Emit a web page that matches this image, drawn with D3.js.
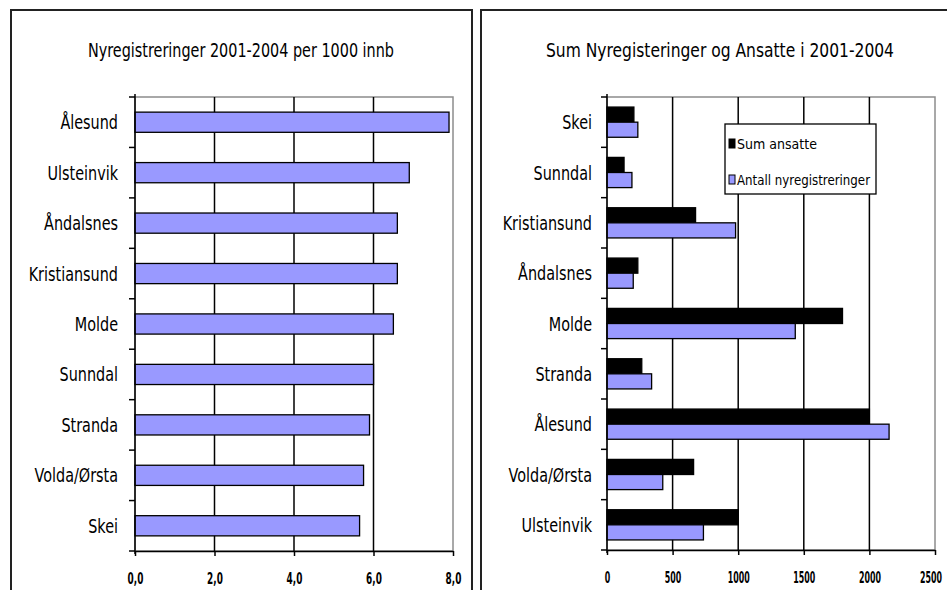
<!DOCTYPE html>
<html>
<head>
<meta charset="utf-8">
<script src="https://cdn.jsdelivr.net/npm/d3@7"></script>
<style>
  html, body { margin: 0; padding: 0; background: #fff; }
  svg { display: block; }
  text { font-family: "Liberation Sans Narrow", "Arial Narrow", "DejaVu Sans Condensed", sans-serif; fill: #000; }
</style>
</head>
<body>
<svg id="chart" width="947" height="590"></svg>
<script>
// ---- Data ----
const leftTitle = "Nyregistreringer 2001-2004 per 1000 innb";
const leftCategories = ["Ålesund", "Ulsteinvik", "Åndalsnes", "Kristiansund", "Molde", "Sunndal", "Stranda", "Volda/Ørsta", "Skei"];
const leftValues = [7.9, 6.9, 6.6, 6.6, 6.5, 6.0, 5.9, 5.75, 5.65];
const leftTicks = [0, 2, 4, 6, 8];
const leftTickLabels = ["0,0", "2,0", "4,0", "6,0", "8,0"];

const rightTitle = "Sum Nyregisteringer og Ansatte i 2001-2004";
const rightCategories = ["Skei", "Sunndal", "Kristiansund", "Åndalsnes", "Molde", "Stranda", "Ålesund", "Volda/Ørsta", "Ulsteinvik"];
const seriesNames = ["Sum ansatte", "Antall nyregistreringer"];
const sumAnsatte = [205, 130, 675, 235, 1795, 265, 2000, 660, 1000];
const antallNyreg = [235, 190, 980, 200, 1435, 340, 2150, 425, 735];
const rightTicks = [0, 500, 1000, 1500, 2000, 2500];
const rightTickLabels = ["0", "500", "1000", "1500", "2000", "2500"];

const PURPLE = "#9999ff";
const seriesColors = ["#000000", PURPLE];

const svg = d3.select("#chart");

// Panel frames
svg.append("rect").attr("x", 11).attr("y", 10).attr("width", 461).attr("height", 600)
  .attr("fill", "#fff").attr("stroke", "#222").attr("stroke-width", 2);
svg.append("rect").attr("x", 481).attr("y", 10).attr("width", 480).attr("height", 600)
  .attr("fill", "#fff").attr("stroke", "#222").attr("stroke-width", 2);

function condensedLabel(sel, xPos, yFn, size, sx) {
  sel.attr("x", 0).attr("y", 0)
    .attr("transform", d => `translate(${xPos},${yFn(d)}) scale(${sx},1)`)
    .attr("text-anchor", "end").attr("font-size", size).text(d => d);
}

function styleValueAxis(ax, size, sx) {
  ax.attr("font-size", size).attr("font-family", null);
  ax.select(".domain").attr("stroke", "#000").attr("stroke-width", 1.5);
  ax.selectAll(".tick line").attr("stroke", "#000").attr("stroke-width", 1.5);
  ax.selectAll(".tick text").attr("font-size", size).attr("font-weight", "bold")
    .attr("y", 33).attr("dy", 0)
    .attr("transform", `scale(${sx},1)`);
}

// ===== LEFT CHART =====
(function () {
  const x0 = 135, x1 = 453, y0 = 97, y1 = 551;
  const x = d3.scaleLinear().domain([0, 8]).range([x0, x1]);
  const y = d3.scaleBand().domain(leftCategories).range([y0, y1]).paddingInner(0.6).paddingOuter(0.3);
  const g = svg.append("g");

  g.append("text").attr("x", 241).attr("y", 57).attr("text-anchor", "middle")
    .attr("font-size", 19).attr("textLength", 306).attr("lengthAdjust", "spacingAndGlyphs")
    .text(leftTitle);

  g.append("rect").attr("x", x0).attr("y", y0).attr("width", x1 - x0).attr("height", y1 - y0)
    .attr("fill", "#fff").attr("stroke", "#8c8c8c").attr("stroke-width", 1.5);

  g.selectAll(".grid").data(leftTicks.slice(1, -1)).enter().append("line")
    .attr("x1", d => x(d)).attr("x2", d => x(d)).attr("y1", y0).attr("y2", y1)
    .attr("stroke", "#000").attr("stroke-width", 1.5);

  g.selectAll(".bar").data(leftCategories).enter().append("rect")
    .attr("x", x(0)).attr("y", d => y(d))
    .attr("width", (d, i) => x(leftValues[i]) - x(0)).attr("height", y.bandwidth())
    .attr("fill", PURPLE).attr("stroke", "#000").attr("stroke-width", 1.3);

  g.append("line").attr("x1", x0).attr("x2", x0).attr("y1", y0 - 3).attr("y2", y1 + 3)
    .attr("stroke", "#000").attr("stroke-width", 1.5);
  const step = y.step();
  g.selectAll(".ctick").data(d3.range(leftCategories.length + 1)).enter().append("line")
    .attr("x1", x0 - 6).attr("x2", x0).attr("y1", i => y0 + i * step).attr("y2", i => y0 + i * step)
    .attr("stroke", "#000").attr("stroke-width", 1.5);
  g.selectAll(".clabel").data(leftCategories).enter().append("text")
    .call(condensedLabel, 118, d => y(d) + y.bandwidth() / 2 + 7, 20, 0.8);

  const ax = g.append("g").attr("transform", `translate(0,${y1})`)
    .call(d3.axisBottom(x).tickValues(leftTicks).tickSize(5).tickSizeOuter(0)
      .tickFormat((d, i) => leftTickLabels[i]));
  styleValueAxis(ax, 16, 0.62);
})();

// ===== RIGHT CHART =====
(function () {
  const x0 = 607, x1 = 935, y0 = 97, y1 = 550;
  const x = d3.scaleLinear().domain([0, 2500]).range([x0, x1]);
  const y = d3.scaleBand().domain(rightCategories).range([y0, y1]).paddingInner(0.4).paddingOuter(0.2);
  const sub = d3.scaleBand().domain(seriesNames).range([0, y.bandwidth()]);
  const g = svg.append("g");

  g.append("text").attr("x", 720).attr("y", 57).attr("text-anchor", "middle")
    .attr("font-size", 19).attr("textLength", 348).attr("lengthAdjust", "spacingAndGlyphs")
    .text(rightTitle);

  g.append("rect").attr("x", x0).attr("y", y0).attr("width", x1 - x0).attr("height", y1 - y0)
    .attr("fill", "#fff").attr("stroke", "#8c8c8c").attr("stroke-width", 1.5);

  g.selectAll(".grid").data(rightTicks.slice(1, -1)).enter().append("line")
    .attr("x1", d => x(d)).attr("x2", d => x(d)).attr("y1", y0).attr("y2", y1)
    .attr("stroke", "#000").attr("stroke-width", 1.5);

  const seriesData = [sumAnsatte, antallNyreg];
  seriesNames.forEach((s, si) => {
    g.selectAll(".bar" + si).data(rightCategories).enter().append("rect")
      .attr("x", x(0)).attr("y", d => y(d) + sub(s))
      .attr("width", (d, i) => x(seriesData[si][i]) - x(0)).attr("height", sub.bandwidth())
      .attr("fill", seriesColors[si]).attr("stroke", "#000").attr("stroke-width", 1.3);
  });

  g.append("line").attr("x1", x0).attr("x2", x0).attr("y1", y0 - 3).attr("y2", y1 + 3)
    .attr("stroke", "#000").attr("stroke-width", 1.5);
  const step = y.step();
  g.selectAll(".ctick").data(d3.range(rightCategories.length + 1)).enter().append("line")
    .attr("x1", x0 - 6).attr("x2", x0).attr("y1", i => y0 + i * step).attr("y2", i => y0 + i * step)
    .attr("stroke", "#000").attr("stroke-width", 1.5);
  g.selectAll(".clabel").data(rightCategories).enter().append("text")
    .call(condensedLabel, 592, d => y(d) + y.bandwidth() / 2 + 7, 20, 0.8);

  const ax = g.append("g").attr("transform", `translate(0,${y1})`)
    .call(d3.axisBottom(x).tickValues(rightTicks).tickSize(5).tickSizeOuter(0)
      .tickFormat((d, i) => rightTickLabels[i]));
  styleValueAxis(ax, 16, 0.55);
  // keep last label inside the picture
  ax.selectAll(".tick text").filter(d => d === 2500).attr("text-anchor", "end").attr("x", 12);

  const lg = g.append("g");
  lg.append("rect").attr("x", 725).attr("y", 124).attr("width", 151).attr("height", 70)
    .attr("fill", "#fff").attr("stroke", "#000").attr("stroke-width", 1.3);
  seriesNames.forEach((s, si) => {
    const cy = 144 + si * 36;
    lg.append("rect").attr("x", 729).attr("y", cy - 5).attr("width", 6).attr("height", 9)
      .attr("fill", seriesColors[si]).attr("stroke", "#000").attr("stroke-width", 1);
    lg.append("text").attr("x", 737).attr("y", cy + 5).attr("font-size", 14)
      .attr("textLength", si === 0 ? 80 : 133).attr("lengthAdjust", "spacingAndGlyphs")
      .text(s);
  });
})();
</script>
</body>
</html>
